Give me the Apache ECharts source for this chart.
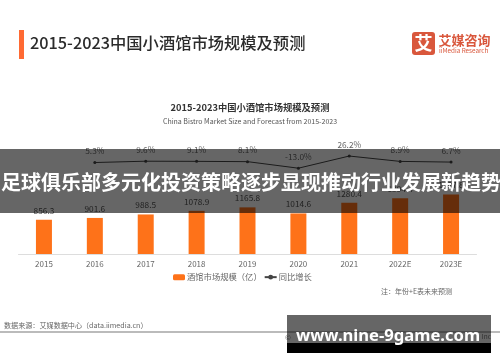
<!DOCTYPE html>
<html><head><meta charset="utf-8">
<style>html,body{margin:0;padding:0;background:#fff}#c{width:500px;height:362px}</style>
<script src="https://cdn.jsdelivr.net/npm/echarts@6/dist/echarts.min.js"></script>
</head><body><div id="c"></div>
<script>
const categories = ['2015','2016','2017','2018','2019','2020','2021','2022E','2023E'];
const marketSize = [856.3,901.6,988.5,1078.9,1165.8,1014.6,1280.4,1394.4,1487.8];
const growth = [null,5.3,9.6,9.1,8.1,-13.0,26.2,8.9,6.7];
const CJK = '"Noto Sans CJK SC","Noto Sans",sans-serif';
const chart = echarts.init(document.getElementById('c'),null,{renderer:'canvas'});
const txt=(x,y,text,font,fill,align,z)=>({type:'text',x,y,z:z||5,style:{text,font,fill,textAlign:align||'left',textVerticalAlign:'middle'}});
chart.setOption({
  animation:false,
  grid:{left:18.5,right:23.5,top:140,bottom:108},
  legend:{top:273,left:173,padding:0,itemGap:2,itemWidth:12,itemHeight:6,textStyle:{fontFamily:CJK,fontSize:8.3,color:'#666',padding:[0,0,0,-3]},
    data:[{name:'酒馆市场规模（亿）'},{name:'同比增长'}]},
  xAxis:{type:'category',data:categories,axisTick:{show:false},axisLine:{lineStyle:{color:'#ddd'}},
    axisLabel:{color:'#666',fontSize:8,fontFamily:CJK,margin:6}},
  yAxis:[{type:'value',min:0,max:2850,show:false,splitLine:{show:false}},
         {type:'value',min:-290,max:78,show:false,splitLine:{show:false}}],
  series:[
    {name:'酒馆市场规模（亿）',type:'bar',data:marketSize,barWidth:16,itemStyle:{color:'#fe7219'},
     label:{show:true,position:'top',distance:5,color:'#555',fontSize:8.3,fontFamily:CJK}},
    {name:'同比增长',type:'line',yAxisIndex:1,data:growth,symbol:'circle',symbolSize:3,
     lineStyle:{color:'#444',width:1},itemStyle:{color:'#444'},
     label:{show:true,position:'top',distance:6,color:'#666',fontSize:8.3,fontFamily:CJK,formatter:p=>p.value.toFixed(1)+'%'}}
  ],
  graphic:[
    {type:'rect',z:5,shape:{x:19,y:30,width:5,height:29},style:{fill:'#ff6a33'}},
    txt(30,43,'2015-2023中国小酒馆市场规模及预测',`500 16.3px ${CJK}`,'#2b2b2b'),
    {type:'rect',z:5,shape:{x:412,y:32,width:23,height:23,r:3},style:{fill:'#d9573c'}},
    txt(423.5,43.5,'艾',`bold 18px ${CJK}`,'#fff','center'),
    txt(438.5,40.5,'艾媒咨询',`bold 13px ${CJK}`,'#d9573c'),
    txt(439,51,'iiMedia Research',`6.3px ${CJK}`,'#d9573c'),
    txt(250,107,'2015-2023中国小酒馆市场规模及预测',`bold 9.3px ${CJK}`,'#333','center'),
    txt(250,121,'China Bistro Market Size and Forecast from 2015-2023',`7px ${CJK}`,'#555','center'),
    txt(381,291,'注：年份+E表未来预测',`7px ${CJK}`,'#666'),
    txt(4,325,'数据来源：艾媒数据中心（data.iimedia.cn）',`7.1px ${CJK}`,'#666'),
    {type:'rect',z:5,shape:{x:0,y:331,width:500,height:2},style:{fill:'#bbb'}},
    txt(285,337,'©',`7px ${CJK}`,'#777'),
    txt(491,337,'Inc',`6.5px ${CJK}`,'#777','right'),
    {type:'rect',z:20,shape:{x:0,y:149,width:500,height:64},style:{fill:'rgba(0,0,0,0.6)'}},
    txt(251,182,'足球俱乐部多元化投资策略逐步显现推动行业发展新趋势',`bold 20px ${CJK}`,'#fff','center',21),
    {type:'rect',z:20,shape:{x:287,y:315,width:204,height:28},style:{fill:'rgba(0,0,0,0.6)'}},
    {type:'rect',z:20,shape:{x:287,y:343,width:204,height:10},style:{fill:'#000'}},
    txt(388,336,'www.nine-9game.com','bold 16.6px "Noto Sans",sans-serif','#fff','center',21)
  ]
});
</script></body></html>
